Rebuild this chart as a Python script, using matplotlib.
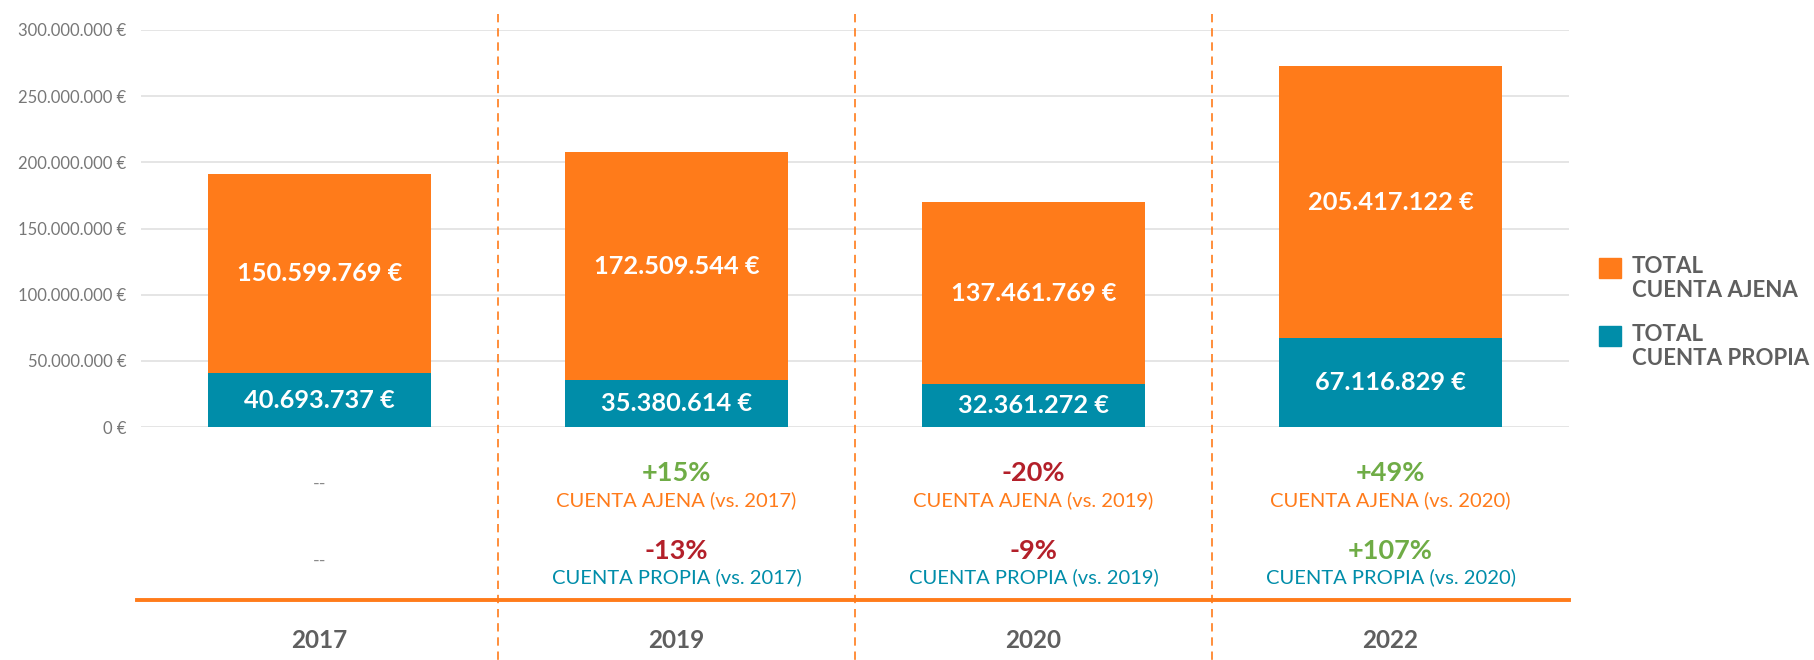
import matplotlib
matplotlib.use("Agg")
import matplotlib.pyplot as plt
import matplotlib.transforms as mtransforms
from matplotlib.lines import Line2D
from matplotlib.patches import Rectangle

plt.rcParams['font.family'] = ['Lato', 'DejaVu Sans']

# data
years = ["2017", "2019", "2020", "2022"]
propia = [40693737, 35380614, 32361272, 67116829]
ajena = [150599769, 172509544, 137461769, 205417122]
yticks = [0, 50000000, 100000000, 150000000, 200000000, 250000000, 300000000]

ORANGE = "#FF7B1A"
TEAL = "#008DA9"
GREEN = "#6FAC46"
RED = "#B3202A"
GREY = "#5F5F5F"


def euro(v):
    return f"{v:,.0f} €".replace(",", ".")


def change(cur, prev):
    p = round((cur / prev - 1) * 100)
    return (f"+{p}%" if p > 0 else f"{p}%"), (GREEN if p > 0 else RED)


fig = plt.figure(figsize=(18.14, 6.6), dpi=100)
W, H = 1814, 660
ax = fig.add_axes([141 / W, 1 - 427 / H, (1569 - 141) / W, (427 - 30) / H])

x = list(range(len(years)))
b1 = ax.bar(x, propia, width=0.625, color=TEAL, zorder=3)
b2 = ax.bar(x, ajena, width=0.625, bottom=propia, color=ORANGE, zorder=3)
for b in (b1, b2):
    ax.bar_label(b, labels=[euro(v) for v in b.datavalues], label_type='center',
                 color='white', fontsize=18.3, fontweight='bold')

ax.set_xlim(-0.5, len(years) - 0.5)
ax.set_ylim(0, 300000000)
ax.set_yticks(yticks)
ax.set_yticklabels([euro(v) for v in yticks], fontsize=12, color="#777777")
ax.tick_params(axis='y', length=0, pad=10.7)
ax.set_xticks([])
ax.grid(axis='y', color="#E3E3E3", linewidth=1.3, zorder=0)
for s in ax.spines.values():
    s.set_visible(False)

# text below the chart: x in data, y in figure fraction
tr = mtransforms.blended_transform_factory(ax.transData, fig.transFigure)


def fy(py):
    return 1 - py / H


for i, yr in enumerate(years):
    ax.text(i, fy(640), yr, transform=tr, ha='center', va='center',
            fontsize=17.5, fontweight='bold', color=GREY)
    if i == 0:
        ax.text(i, fy(484), "--", transform=tr, ha='center', va='center', fontsize=13, color="#8A8A8A")
        ax.text(i, fy(561), "--", transform=tr, ha='center', va='center', fontsize=13, color="#8A8A8A")
        continue
    t, c = change(ajena[i], ajena[i - 1])
    ax.text(i, fy(473), t, transform=tr, ha='center', va='center', fontsize=19.5, fontweight='bold', color=c)
    ax.text(i, fy(500), f"CUENTA AJENA (vs. {years[i - 1]})", transform=tr, ha='center', va='center',
            fontsize=14.5, color=ORANGE)
    t, c = change(propia[i], propia[i - 1])
    ax.text(i, fy(551), t, transform=tr, ha='center', va='center', fontsize=19.5, fontweight='bold', color=c)
    ax.text(i, fy(577), f"CUENTA PROPIA (vs. {years[i - 1]})", transform=tr, ha='center', va='center',
            fontsize=14.5, color=TEAL)

# separators
for xs in [0.5, 1.5, 2.5]:
    fig.add_artist(Line2D([xs, xs], [fy(14), 0], transform=tr, color=ORANGE, linewidth=1.2,
                          linestyle=(0, (5, 3.5))))
fig.add_artist(Line2D([-0.5 - 4 / 357, len(years) - 0.5], [fy(600), fy(600)], transform=tr,
                      color=ORANGE, linewidth=2.8))

# legend
for (py, col, lab) in [(258, ORANGE, "TOTAL\nCUENTA AJENA"), (326, TEAL, "TOTAL\nCUENTA PROPIA")]:
    fig.add_artist(Rectangle((1599 / W, fy(py + 20)), 22 / W, 20 / H, transform=fig.transFigure,
                             color=col))
    fig.text(1632 / W, fy(py - 2), lab, ha='left', va='top', fontsize=16, fontweight='bold',
             color=GREY, linespacing=1.2)

fig.savefig("out.png", dpi=100)
